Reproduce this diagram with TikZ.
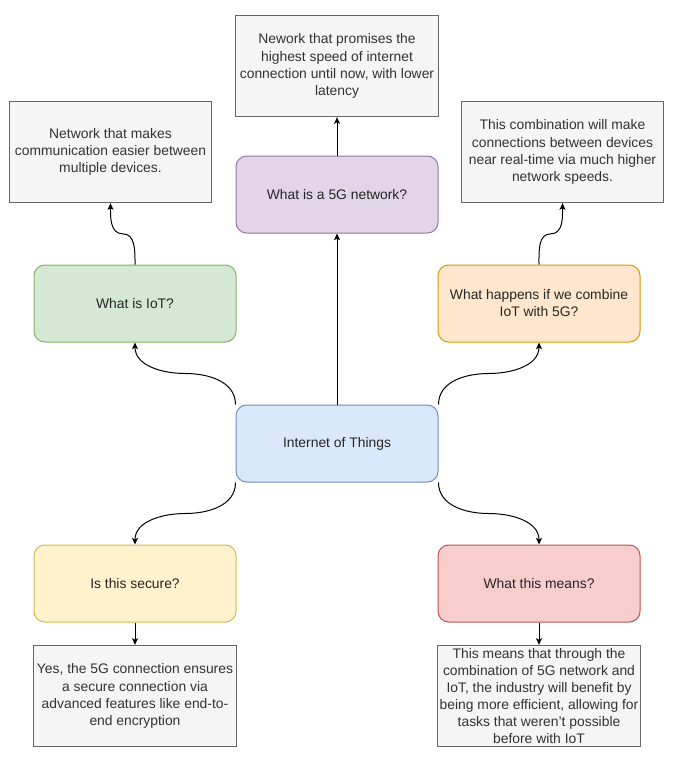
\documentclass[tikz,border=0pt]{standalone}
\usepackage{fontspec}
\setmainfont{Liberation Sans}
\usepackage{xcolor}
\usetikzlibrary{calc,arrows.meta}

\definecolor{grayfill}{HTML}{F5F5F5}
\definecolor{grayline}{HTML}{666666}
\definecolor{graytext}{HTML}{333333}
\definecolor{bluefill}{HTML}{DAE8FC}
\definecolor{blueline}{HTML}{6C8EBF}
\definecolor{purplefill}{HTML}{E1D5E7}
\definecolor{purpleline}{HTML}{9673A6}
\definecolor{greenfill}{HTML}{D5E8D4}
\definecolor{greenline}{HTML}{82B366}
\definecolor{orangefill}{HTML}{FFE6CC}
\definecolor{orangeline}{HTML}{D79B00}
\definecolor{yellowfill}{HTML}{FFF2CC}
\definecolor{yellowline}{HTML}{D6B656}
\definecolor{redfill}{HTML}{F8CECC}
\definecolor{redline}{HTML}{B85450}

\begin{document}
\begin{tikzpicture}[x=0.75pt,y=-0.75pt,
    every node/.style={font=\fontsize{10.4}{12.8}\selectfont, align=center, inner sep=0pt},
    question/.style={draw, line width=0.75pt, rounded corners=8pt, minimum width=151.5pt, minimum height=57.75pt, text=black!85},
    answer/.style={draw=grayline, fill=grayfill, line width=0.75pt, minimum width=152pt, minimum height=76pt, text=graytext},
    link/.style={line width=0.75pt, -{Stealth[length=5pt,width=4.5pt,inset=1.2pt]}}]
    \useasboundingbox (0,0) rectangle (674,757);

    % draw question boxes
    \node[question, draw=blueline, fill=bluefill] (iot) at (337,443.5) {Internet of Things};
    \node[question, draw=purpleline, fill=purplefill] (fiveg) at (337,194.5) {What is a 5G network?};
    \node[question, draw=greenline, fill=greenfill] (whatiot) at (135,303.5) {What is IoT?};
    \node[question, draw=orangeline, fill=orangefill] (combine) at (539,303.5) {What happens if we combine\\IoT with 5G?};
    \node[question, draw=yellowline, fill=yellowfill] (secure) at (135,583.5) {Is this secure?};
    \node[question, draw=redline, fill=redfill] (means) at (539,583.5) {What this means?};

    % draw answer boxes
    \node[answer] (fivegtxt) at (337,66) {Nework that promises the\\highest speed of internet\\connection until now, with lower\\latency};
    \node[answer] (iottxt) at (110.5,152) {Network that makes\\communication easier between\\multiple devices.};
    \node[answer] (combtxt) at (562.5,152) {This combination will make\\connections between devices\\near real-time via much higher\\network speeds.};
    \node[answer] (securetxt) at (135,696) {Yes, the 5G connection ensures\\a secure connection via\\advanced features like end-to-\\end encryption};
    \node[answer] (meanstxt) at (539,696) {This means that through the\\combination of 5G network and\\IoT, the industry will benefit by\\being more efficient, allowing for\\tasks that weren't possible\\before with IoT};

    % draw straight arrows
    \draw[link] (iot.north) -- (fiveg.south);
    \draw[link] (fiveg.north) -- (fivegtxt.south);
    \draw[link] (secure.south) -- (securetxt.north);
    \draw[link] (means.south) -- (meanstxt.north);

    % draw curved arrows
    \draw[link] (iot.north west) to[out=90,in=0] ($(iot.north west)!.5!(whatiot.south)$) to[out=180,in=-90] (whatiot.south);
    \draw[link] (iot.north east) to[out=90,in=180] ($(iot.north east)!.5!(combine.south)$) to[out=0,in=-90] (combine.south);
    \draw[link] (iot.south west) to[out=-90,in=0] ($(iot.south west)!.5!(secure.north)$) to[out=180,in=90] (secure.north);
    \draw[link] (iot.south east) to[out=-90,in=180] ($(iot.south east)!.5!(means.north)$) to[out=0,in=90] (means.north);
    \draw[link] (whatiot.north) to[out=90,in=0] ($(whatiot.north)!.5!(iottxt.south)$) to[out=180,in=-90] (iottxt.south);
    \draw[link] (combine.north) to[out=90,in=180] ($(combine.north)!.5!(combtxt.south)$) to[out=0,in=-90] (combtxt.south);
\end{tikzpicture}
\end{document}
